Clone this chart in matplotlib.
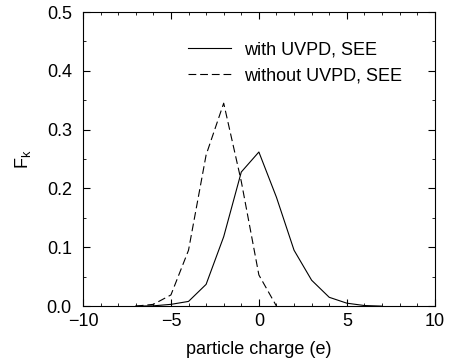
import numpy as np
import matplotlib
matplotlib.use("Agg")
import matplotlib.pyplot as plt
from matplotlib.ticker import MultipleLocator

plt.rcParams['font.family'] = ['Liberation Sans', 'DejaVu Sans']

# charge distribution F_k vs particle charge k
charge = [-7, -6, -5, -4, -3, -2, -1, 0, 1, 2, 3, 4, 5, 6, 7]
with_uvpd = [0.0, 0.0005, 0.003, 0.008, 0.037, 0.118, 0.228, 0.262, 0.185, 0.095, 0.044, 0.015, 0.005, 0.001, 0.0]
without_uvpd = [0.0, 0.003, 0.019, 0.095, 0.257, 0.345, 0.212, 0.053, 0.0, 0.0, 0.0, 0.0, 0.0, 0.0, 0.0]

fig = plt.figure(figsize=(4.51, 3.64), dpi=100)
ax = fig.add_axes([0.184, 0.159, 0.780, 0.808])

ax.plot(charge, with_uvpd, color='black', lw=0.8, label='with UVPD, SEE')
ax.plot(charge[:9], without_uvpd[:9], color='black', lw=0.8, dashes=(7, 3.5),
        label='without UVPD, SEE')

ax.set_xlim(-10, 10)
ax.set_ylim(0, 0.5)
ax.xaxis.set_major_locator(MultipleLocator(5))
ax.xaxis.set_minor_locator(MultipleLocator(1))
ax.yaxis.set_major_locator(MultipleLocator(0.1))
ax.yaxis.set_minor_locator(MultipleLocator(0.05))
ax.yaxis.set_major_formatter(plt.FormatStrFormatter('%.1f'))
ax.tick_params(which='both', direction='in', top=True, right=True, labelsize=13)
ax.tick_params(which='major', length=5, width=0.8)
ax.tick_params(which='minor', length=2.5, width=0.6)
ax.tick_params(axis='x', which='major', pad=5)
ax.tick_params(axis='y', which='major', pad=8)
for s in ax.spines.values():
    s.set_linewidth(0.8)

ax.set_xlabel('particle charge (e)', fontsize=13, labelpad=8)
ax.set_ylabel(r'F$_\mathregular{k}$', fontsize=13, labelpad=10)

ax.legend(loc='upper left', bbox_to_anchor=(0.298, 0.90), frameon=False,
          borderpad=0, borderaxespad=0, fontsize=13, handlelength=2.4,
          handletextpad=0.7, labelspacing=0.5)

fig.savefig('out.png', dpi=100)
